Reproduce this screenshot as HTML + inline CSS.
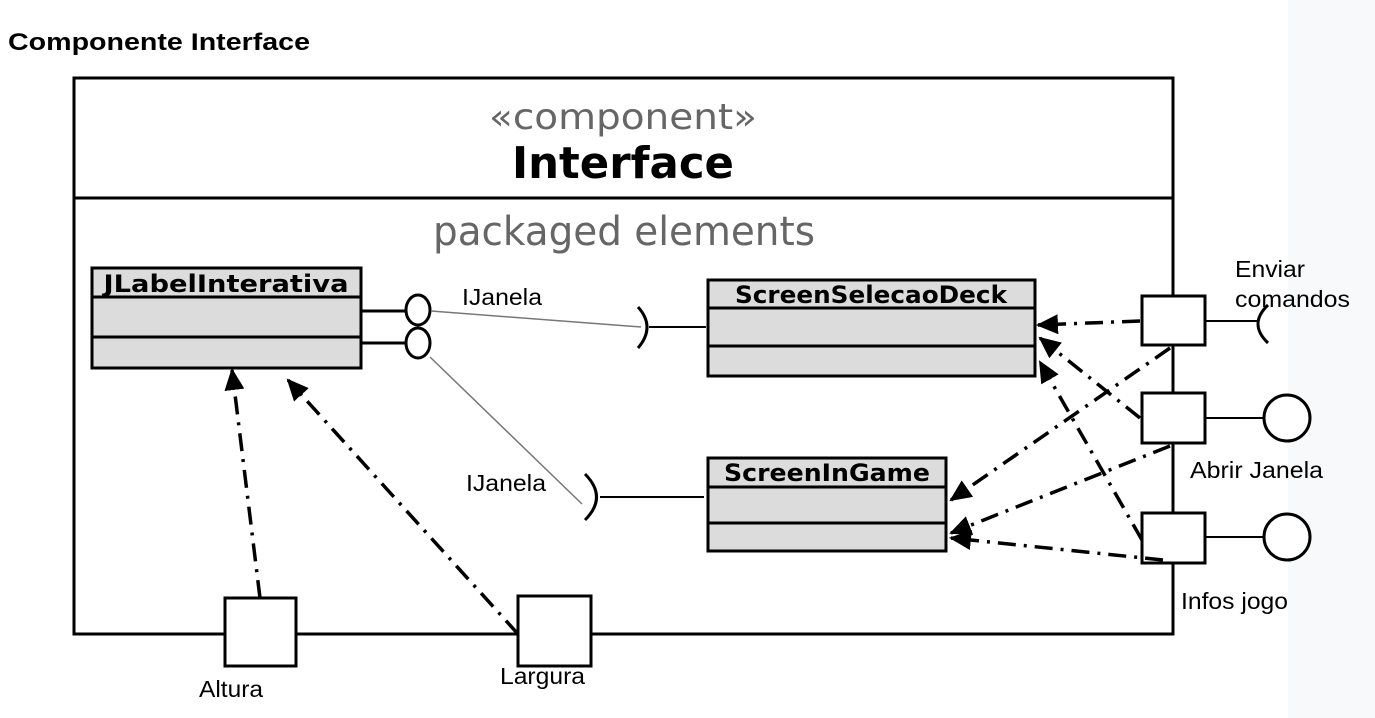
<!DOCTYPE html>
<html><head><meta charset="utf-8"><style>
html,body{margin:0;padding:0;background:#fff;}
svg{display:block;}
</style></head><body>
<svg width="1375" height="718" viewBox="0 0 1375 718" xmlns="http://www.w3.org/2000/svg">
<defs>
<marker id="ah" markerWidth="22" markerHeight="20" refX="20" refY="10" orient="auto" markerUnits="userSpaceOnUse" viewBox="0 0 22 20">
<path d="M0,0 L22,10 L0,20 z" fill="#000"/>
</marker>
</defs>
<rect x="1288" y="0" width="87" height="718" fill="#f8f9fa"/>
<text x="8" y="50" font-family="Liberation Sans, sans-serif" font-weight="bold" font-size="24" fill="#000" textLength="302" lengthAdjust="spacingAndGlyphs">Componente Interface</text>

<rect x="74" y="78" width="1099" height="556" fill="none" stroke="#000" stroke-width="3"/>
<line x1="74" y1="198" x2="1173" y2="198" stroke="#000" stroke-width="3"/>
<text x="623" y="129" text-anchor="middle" font-family="DejaVu Sans, sans-serif" font-size="36" fill="#666" textLength="268" lengthAdjust="spacingAndGlyphs">«component»</text>
<text x="623" y="178" text-anchor="middle" font-family="DejaVu Sans, sans-serif" font-weight="bold" font-size="44" fill="#000" textLength="222" lengthAdjust="spacingAndGlyphs">Interface</text>
<text x="624" y="245" text-anchor="middle" font-family="DejaVu Sans, sans-serif" font-size="40" fill="#666" textLength="382" lengthAdjust="spacingAndGlyphs">packaged elements</text>

<!-- JLabelInterativa -->
<rect x="92" y="268" width="269" height="100" fill="#dcdcdc" stroke="#000" stroke-width="3"/>
<line x1="92" y1="297" x2="361" y2="297" stroke="#000" stroke-width="3"/>
<line x1="92" y1="337" x2="361" y2="337" stroke="#000" stroke-width="3"/>
<text x="226" y="292" text-anchor="middle" font-family="DejaVu Sans, sans-serif" font-weight="bold" font-size="24" textLength="245" lengthAdjust="spacingAndGlyphs">JLabelInterativa</text>
<line x1="361" y1="311" x2="405" y2="311" stroke="#000" stroke-width="3"/>
<line x1="361" y1="343" x2="405" y2="343" stroke="#000" stroke-width="3"/>
<ellipse cx="418" cy="310" rx="12" ry="15" fill="#fff" stroke="#000" stroke-width="3"/>
<ellipse cx="418" cy="343" rx="12" ry="15" fill="#fff" stroke="#000" stroke-width="3"/>
<line x1="431" y1="311" x2="641" y2="327" stroke="#777" stroke-width="1.5"/>
<line x1="430" y1="357" x2="582" y2="504" stroke="#777" stroke-width="1.5"/>
<text x="462" y="305" font-family="Liberation Sans, sans-serif" font-size="23" textLength="80" lengthAdjust="spacingAndGlyphs">IJanela</text>
<text x="466" y="491" font-family="Liberation Sans, sans-serif" font-size="23" textLength="80" lengthAdjust="spacingAndGlyphs">IJanela</text>
<path d="M638,307 Q656,327 638,348" fill="none" stroke="#000" stroke-width="3"/>
<line x1="649" y1="327" x2="706" y2="327" stroke="#000" stroke-width="2"/>
<path d="M585,474 Q608,497 585,520" fill="none" stroke="#000" stroke-width="3"/>
<line x1="600" y1="497" x2="704" y2="497" stroke="#000" stroke-width="2"/>

<!-- ScreenSelecaoDeck -->
<rect x="708" y="280" width="327" height="96" fill="#dcdcdc" stroke="#000" stroke-width="3"/>
<line x1="708" y1="308" x2="1035" y2="308" stroke="#000" stroke-width="3"/>
<line x1="708" y1="346" x2="1035" y2="346" stroke="#000" stroke-width="3"/>
<text x="871" y="303" text-anchor="middle" font-family="DejaVu Sans, sans-serif" font-weight="bold" font-size="24" textLength="272" lengthAdjust="spacingAndGlyphs">ScreenSelecaoDeck</text>

<!-- ScreenInGame -->
<rect x="708" y="458" width="238" height="93" fill="#dcdcdc" stroke="#000" stroke-width="3"/>
<line x1="708" y1="487" x2="946" y2="487" stroke="#000" stroke-width="3"/>
<line x1="708" y1="523" x2="946" y2="523" stroke="#000" stroke-width="3"/>
<text x="827" y="481" text-anchor="middle" font-family="DejaVu Sans, sans-serif" font-weight="bold" font-size="24" textLength="206" lengthAdjust="spacingAndGlyphs">ScreenInGame</text>

<!-- right ports -->
<g stroke="#000" stroke-width="3" fill="#fff">
<rect x="1142" y="296" width="63" height="49"/>
<rect x="1142" y="393" width="63" height="50"/>
<rect x="1142" y="513" width="63" height="50"/>
<rect x="225" y="598" width="71" height="68"/>
<rect x="518" y="596" width="73" height="70"/>
<circle cx="1287" cy="418" r="23"/>
<circle cx="1287" cy="537" r="23"/>
</g>
<g stroke="#000" stroke-width="2" fill="none">
<line x1="1205" y1="321" x2="1258" y2="321"/>
<line x1="1205" y1="418" x2="1264" y2="418"/>
<line x1="1205" y1="537" x2="1264" y2="537"/>
<path d="M1268,305 Q1248,324 1268,343" stroke-width="3"/>
</g>
<text x="1235" y="277" font-family="Liberation Sans, sans-serif" font-size="23" textLength="70" lengthAdjust="spacingAndGlyphs">Enviar</text>
<text x="1235" y="307" font-family="Liberation Sans, sans-serif" font-size="23" textLength="115" lengthAdjust="spacingAndGlyphs">comandos</text>
<text x="1190" y="478" font-family="Liberation Sans, sans-serif" font-size="23" textLength="133" lengthAdjust="spacingAndGlyphs">Abrir Janela</text>
<text x="1181" y="609" font-family="Liberation Sans, sans-serif" font-size="23" textLength="107" lengthAdjust="spacingAndGlyphs">Infos jogo</text>
<text x="199" y="697" font-family="Liberation Sans, sans-serif" font-size="23" textLength="64" lengthAdjust="spacingAndGlyphs">Altura</text>
<text x="500" y="684" font-family="Liberation Sans, sans-serif" font-size="23" textLength="85" lengthAdjust="spacingAndGlyphs">Largura</text>

<!-- dependencies -->
<g stroke="#000" stroke-width="3.5" fill="none" stroke-dasharray="18,8,3,8" marker-end="url(#ah)">
<line x1="1140" y1="321" x2="1038" y2="325"/>
<line x1="1140" y1="418" x2="1040" y2="338"/>
<line x1="1142" y1="540" x2="1040" y2="362"/>
<line x1="1170" y1="348" x2="951" y2="500"/>
<line x1="1170" y1="446" x2="951" y2="533"/>
<line x1="1163" y1="560" x2="951" y2="538"/>
<line x1="260" y1="598" x2="232" y2="370"/>
<line x1="518" y1="634" x2="288" y2="380"/>
</g>
</svg>
</body></html>
